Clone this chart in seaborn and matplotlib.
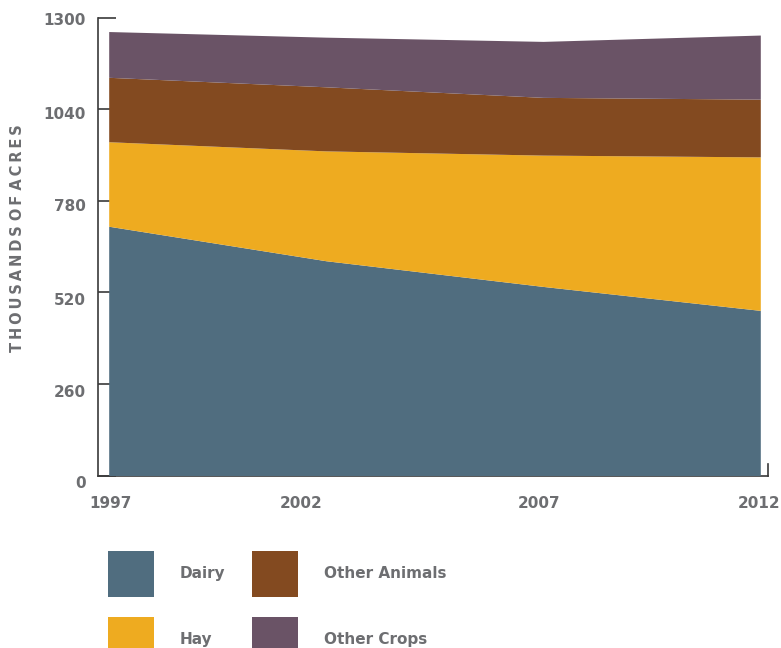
import matplotlib
matplotlib.use("Agg")
import matplotlib.pyplot as plt
import matplotlib.transforms as mtransforms
from matplotlib.patches import Patch
import seaborn as sns

# Land use, thousands of acres
years = [1997, 2002, 2007, 2012]
dairy = [708, 610, 537, 469]
hay = [240, 312, 373, 436]
other_animals = [183, 182, 164, 164]
other_crops = [130, 141, 159, 182]
series_names = ["Dairy", "Hay", "Other Animals", "Other Crops"]
y_ticks = [0, 260, 520, 780, 1040, 1300]

colors = ["#506d7f", "#eeab20", "#834a20", "#6a5366"]
text_gray = "#6d6e71"
axis_dark = "#3a3a3a"

sns.set_theme(style="white")
plt.rcParams["font.family"] = ["DejaVu Sans"]
plt.rcParams["font.weight"] = "bold"

W, H = 781, 648
fig = plt.figure(figsize=(W / 100, H / 100), dpi=100)
ax_left, ax_right, ax_top, ax_bottom = 98, 768, 17.8, 475.5
ax = fig.add_axes([ax_left / W, 1 - ax_bottom / H,
                   (ax_right - ax_left) / W, (ax_bottom - ax_top) / H])

ax.stackplot(years, dairy, hay, other_animals, other_crops,
             colors=colors, linewidth=0, zorder=3)

px_per_year = (760.3 - 108.7) / 15
ax.set_xlim(years[0] - (108.7 - ax_left) / px_per_year,
            years[-1] + (ax_right - 760.3) / px_per_year)
ax.set_ylim(0, 1300)
ax.set_axisbelow(True)

ax.set_xticks(years)
ax.set_xticklabels([str(y) for y in years])
ax.set_yticks(y_ticks)
ax.set_yticklabels([str(v) for v in y_ticks])

ax.tick_params(axis="y", left=True, direction="in", length=13, width=1.2,
               color=axis_dark, pad=9, labelsize=11, labelcolor=text_gray)
ax.tick_params(axis="x", bottom=False, length=0, pad=15, labelsize=11,
               labelcolor=text_gray)
for lab in ax.get_xticklabels() + ax.get_yticklabels():
    lab.set_fontweight("bold")

# nudge tick labels (pixels)
x_shift_px = [1.8, -25, -3.6, -1.3]
for lab, dx in zip(ax.get_xticklabels(), x_shift_px):
    lab.set_transform(lab.get_transform() +
                      mtransforms.ScaledTranslation(dx / 100, 0, fig.dpi_scale_trans))
y_shift_px = [6.7, 6.7, 6.9, 3.9, 3.7, 1.5]
for lab, dy in zip(ax.get_yticklabels(), y_shift_px):
    lab.set_transform(lab.get_transform() +
                      mtransforms.ScaledTranslation(0, -dy / 100, fig.dpi_scale_trans))

sns.despine(ax=ax, top=True, right=False)
for side in ["left", "bottom", "right"]:
    ax.spines[side].set_color(axis_dark)
    ax.spines[side].set_linewidth(1.2)
    ax.spines[side].set_zorder(0.5)
ax.spines["right"].set_bounds(0, 32)
ax.grid(False)

# rotated, letter-spaced axis title
thin = "\u2009"
title = " ".join(thin.join(word) for word in "THOUSANDS OF ACRES".split())
fig.text(18 / W, 1 - 238.5 / H, title, rotation=90, ha="center", va="center",
         fontsize=10.5, fontweight="bold", color=text_gray)

handles = [Patch(facecolor=c, edgecolor="none", label=n)
           for c, n in zip(colors, series_names)]
fig.legend(handles=handles, ncol=2, loc="upper left",
           bbox_to_anchor=(108 / W, 1 - 551 / H), frameon=False,
           borderpad=0, borderaxespad=0, handlelength=3.0, handleheight=4.25,
           handletextpad=1.7, columnspacing=1.72, labelspacing=1.31,
           prop=dict(weight="bold", size=11), labelcolor=text_gray)

fig.savefig("out.png", dpi=100)
